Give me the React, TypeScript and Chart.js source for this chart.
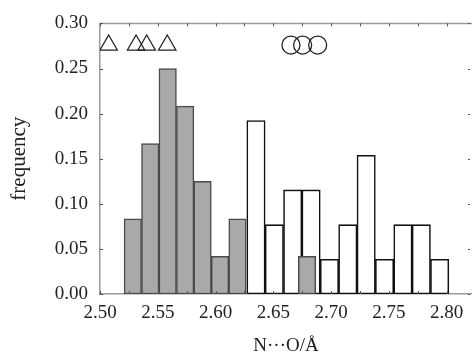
import React, { useEffect, useRef } from "react";
import { Chart, registerables } from "chart.js";

Chart.register(...registerables);

// Histogram A (grey): bin centres (Å), bin width (Å) and frequencies
const greyCenters = [2.5284, 2.5435, 2.5586, 2.5737, 2.5888, 2.6039, 2.619, 2.6792];
const greyFreq = [0.0833, 0.1667, 0.25, 0.2083, 0.125, 0.0417, 0.0833, 0.0417];
const greyBinWidth = 0.0151;

// Histogram B (white): bin centres (Å), bin width (Å) and frequencies
const whiteCenters = [2.635, 2.6509, 2.6668, 2.6827, 2.6986, 2.7145, 2.7304, 2.7463, 2.7622, 2.7781, 2.794];
const whiteFreq = [0.1923, 0.0769, 0.1154, 0.1154, 0.0385, 0.0769, 0.1538, 0.0385, 0.0769, 0.0769, 0.0385];
const whiteBinWidth = 0.0159;

// Marker rows at top
const triangleX = [2.5075, 2.5312, 2.5404, 2.5582];
const circleX = [2.6653, 2.6754, 2.6884];
const markerY = 0.276;

const xMin = 2.5;
const xMax = 2.822;
const yMin = 0;
const yMax = 0.3;

const FONT = "'Liberation Serif', 'Times New Roman', serif";

function binPixels(c: any, w: number) {
  const xs = c.chart.scales.x;
  if (!xs) return undefined;
  return Math.abs(xs.getPixelForValue(xMin + w) - xs.getPixelForValue(xMin));
}

export default function App() {
  const ref = useRef<HTMLCanvasElement | null>(null);

  useEffect(() => {
    document.body.style.margin = "0";
    const canvas = ref.current;
    if (!canvas) return;

    const frameColor = "#9a9a9a";
    const tickColor = "#555";

    const framePlugin = {
      id: "frame",
      afterDraw(chart: any) {
        const { ctx, chartArea } = chart;
        const xs = chart.scales.x;
        const ys = chart.scales.y;
        ctx.save();
        ctx.strokeStyle = frameColor;
        ctx.lineWidth = 1.5;
        ctx.beginPath();
        ctx.moveTo(chartArea.left, chartArea.top);
        ctx.lineTo(chartArea.right, chartArea.top);
        ctx.stroke();
        ctx.strokeStyle = tickColor;
        ctx.lineWidth = 1;
        ctx.beginPath();
        xs.ticks.forEach((t: any) => {
          const k = Math.round(t.value / 0.025);
          if (Math.abs(k * 0.025 - t.value) > 1e-6) return;
          const px = Math.round(xs.getPixelForValue(t.value)) + 0.5;
          ctx.moveTo(px, chartArea.bottom);
          ctx.lineTo(px, chartArea.bottom - 3);
          ctx.moveTo(px, chartArea.top);
          ctx.lineTo(px, chartArea.top + 3);
        });
        ys.ticks.forEach((t: any) => {
          const py = Math.round(ys.getPixelForValue(t.value)) + 0.5;
          ctx.moveTo(chartArea.left, py);
          ctx.lineTo(chartArea.left + 3, py);
          ctx.moveTo(chartArea.right - 4, py);
          ctx.lineTo(chartArea.right - 2, py);
        });
        ctx.stroke();
        ctx.restore();
      },
    };

    const chart = new Chart(canvas, {
      type: "bar",
      data: {
        datasets: [
          {
            type: "scatter",
            data: triangleX.map((x) => ({ x, y: markerY })),
            pointStyle: "triangle",
            radius: 10,
            borderColor: "#222",
            borderWidth: 1.3,
            backgroundColor: "rgba(0,0,0,0)",
          } as any,
          {
            type: "scatter",
            data: circleX.map((x) => ({ x, y: markerY })),
            pointStyle: "circle",
            radius: 9,
            borderColor: "#222",
            borderWidth: 1.3,
            backgroundColor: "rgba(0,0,0,0)",
          } as any,
          {
            data: greyCenters.map((x, i) => ({ x, y: greyFreq[i] })),
            backgroundColor: "#a9a9a9",
            borderColor: "#4a4a4a",
            borderWidth: 1.5,
            borderSkipped: false,
            grouped: false,
            barThickness: (c: any) => binPixels(c, greyBinWidth),
          } as any,
          {
            data: whiteCenters.map((x, i) => ({ x, y: whiteFreq[i] })),
            backgroundColor: "#ffffff",
            borderColor: "#111",
            borderWidth: 1.6,
            borderSkipped: false,
            grouped: false,
            barThickness: (c: any) => binPixels(c, whiteBinWidth),
          } as any,
        ],
      },
      options: {
        animation: false,
        responsive: false,
        maintainAspectRatio: false,
        layout: { autoPadding: false, padding: { top: 20, right: 0, left: 0, bottom: 0 } },
        plugins: {
          legend: { display: false },
          tooltip: { enabled: false },
        },
        scales: {
          x: {
            type: "linear",
            min: xMin,
            max: xMax,
            offset: false,
            position: "bottom",
            grid: { display: false, offset: false, drawTicks: false },
            border: { display: true, color: frameColor, width: 1.5 },
            ticks: {
              stepSize: 0.025,
              includeBounds: false,
              padding: 8,
              color: "#222",
              font: { family: FONT, size: 19 },
              maxRotation: 0,
              autoSkip: false,
              callback: (v: any) => {
                const k = Math.round(v / 0.05);
                return Math.abs(k * 0.05 - v) < 1e-6 ? Number(v).toFixed(2) : "";
              },
            },
            title: {
              display: true,
              text: "N\u00B7\u00B7\u00B7O/Å",
              color: "#222",
              font: { family: FONT, size: 19, lineHeight: 0.8 },
              padding: { top: 0, bottom: 0 },
            },
            afterFit: (s: any) => {
              s.height = 60;
              s.paddingLeft = 0;
              s.paddingRight = 0;
            },
          },
          y: {
            type: "linear",
            min: yMin,
            max: yMax,
            grid: { display: false, drawTicks: false },
            border: { display: true, color: frameColor, width: 1.5 },
            ticks: {
              stepSize: 0.05,
              padding: 12,
              color: "#222",
              font: { family: FONT, size: 19 },
              callback: (v: any) => Number(v).toFixed(2),
            },
            title: {
              display: true,
              text: "frequency",
              color: "#222",
              font: { family: FONT, size: 21, lineHeight: 1 },
              padding: { top: 9, bottom: 0 },
            },
            afterFit: (s: any) => {
              s.width = 100;
            },
          },
        },
      } as any,
      plugins: [framePlugin],
    });

    return () => chart.destroy();
  }, []);

  return (
    <div style={{ width: 472, height: 354 }}>
      <canvas ref={ref} width={472} height={354} style={{ display: "block" }} />
    </div>
  );
}
